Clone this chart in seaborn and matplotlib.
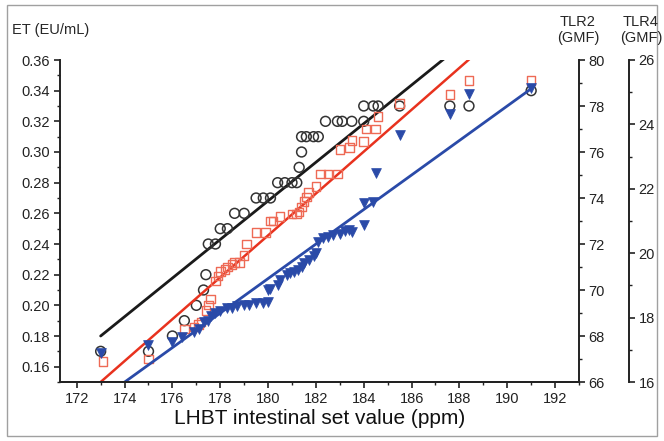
import numpy as np
import matplotlib
matplotlib.use("Agg")
import matplotlib.pyplot as plt
import seaborn as sns
from matplotlib.ticker import MultipleLocator
from matplotlib.patches import Rectangle

# ET (EU/mL) - black open circles
et_x = [173.0, 175.0, 176.0, 176.5, 177.0, 177.3, 177.4, 177.5, 177.8, 178.0,
        178.3, 178.6, 179.0, 179.5, 179.8, 180.1, 180.4, 180.7, 181.0, 181.2,
        181.3, 181.4, 181.4, 181.6, 181.9, 182.1, 182.4, 182.9, 183.1, 183.5,
        184.0, 184.0, 184.4, 184.6, 185.5, 187.6, 188.4, 191.0]
et_y = [0.17, 0.17, 0.18, 0.19, 0.20, 0.21, 0.22, 0.24, 0.24, 0.25,
        0.25, 0.26, 0.26, 0.27, 0.27, 0.27, 0.28, 0.28, 0.28, 0.28,
        0.29, 0.30, 0.31, 0.31, 0.31, 0.31, 0.32, 0.32, 0.32, 0.32,
        0.32, 0.33, 0.33, 0.33, 0.33, 0.33, 0.33, 0.34]

# TLR2 (GMF) - red open squares
tlr2_x = [173.1, 175.0, 176.5, 176.9, 177.1, 177.2, 177.4, 177.5, 177.6, 177.8,
          177.9, 178.0, 178.2, 178.3, 178.5, 178.6, 178.8, 179.0, 179.1, 179.5,
          179.9, 180.1, 180.2, 180.5, 181.0, 181.2, 181.3, 181.4, 181.5, 181.6,
          181.7, 182.0, 182.2, 182.5, 182.9, 183.0, 183.4, 183.5, 184.0, 184.1,
          184.5, 184.6, 185.5, 187.6, 188.4, 191.0]
tlr2_y = [66.9, 67.0, 68.3, 68.4, 68.5, 68.6, 69.1, 69.35, 69.6, 70.4,
          70.6, 70.8, 70.9, 71.0, 71.1, 71.2, 71.2, 71.5, 72.0, 72.5,
          72.5, 73.0, 73.0, 73.2, 73.3, 73.3, 73.4, 73.6, 73.85, 74.05,
          74.25, 74.5, 75.05, 75.05, 75.05, 76.1, 76.2, 76.5, 76.45, 77.0,
          77.0, 77.55, 78.1, 78.5, 79.1, 79.1]

# TLR4 (GMF) - blue filled down triangles
tlr4_x = [173.0, 175.0, 176.0, 176.4, 176.9, 177.1, 177.3, 177.5, 177.6, 177.8,
          178.0, 178.3, 178.5, 178.7, 179.0, 179.2, 179.5, 179.8, 180.0, 180.0,
          180.1, 180.4, 180.5, 180.8, 180.9, 181.1, 181.25, 181.4, 181.5, 181.7,
          181.9, 182.0, 182.1, 182.3, 182.5, 182.7, 183.0, 183.2, 183.4, 183.5,
          184.0, 184.0, 184.4, 184.5, 185.5, 187.6, 188.4, 191.0]
tlr4_y = [16.9, 17.15, 17.25, 17.4, 17.55, 17.65, 17.85, 17.9, 18.05, 18.15,
          18.2, 18.3, 18.3, 18.35, 18.4, 18.4, 18.45, 18.45, 18.5, 18.86,
          18.9, 19.0, 19.17, 19.32, 19.38, 19.43, 19.48, 19.58, 19.7, 19.8,
          19.9, 20.0, 20.36, 20.46, 20.5, 20.56, 20.6, 20.7, 20.72, 20.67,
          20.88, 21.55, 21.6, 22.48, 23.67, 24.32, 24.94, 25.12]

# linear fits: value at x=173 and slope per ppm
fit_range = [173.0, 191.0]
et_fit = (0.18, 0.01259)
tlr2_fit = (66.0, 0.9105)
tlr4_fit = (15.46, 0.536)

sns.set_style("ticks")
plt.rcParams["font.family"] = ["Liberation Sans", "DejaVu Sans"]
plt.rcParams["xtick.direction"] = "out"
plt.rcParams["ytick.direction"] = "out"

fig = plt.figure(figsize=(6.64, 4.41), dpi=100)
ax = fig.add_axes([60 / 664, 59 / 441, 519 / 664, 322 / 441])
ax2 = ax.twinx()
ax3 = ax.twinx()

black = "#1a1a1a"
red_line = "#e8321e"
red_mk = "#ee6a55"
blue = "#2a4aa8"

fx = np.array(fit_range)
sns.lineplot(x=fx, y=et_fit[0] + et_fit[1] * (fx - 173), ax=ax, color=black, linewidth=2.0)
sns.lineplot(x=fx, y=tlr2_fit[0] + tlr2_fit[1] * (fx - 173), ax=ax2, color=red_line, linewidth=1.8)
sns.lineplot(x=fx, y=tlr4_fit[0] + tlr4_fit[1] * (fx - 173), ax=ax3, color=blue, linewidth=2.0)

sns.scatterplot(x=et_x, y=et_y, ax=ax, marker="o", s=50, facecolors="none",
                edgecolors="#333333", linewidth=1.1, zorder=3)
sns.scatterplot(x=tlr2_x, y=tlr2_y, ax=ax2, marker="s", s=38, facecolors="none",
                edgecolors=red_mk, linewidth=1.0, zorder=3)
sns.scatterplot(x=tlr4_x, y=tlr4_y, ax=ax3, marker="v", s=50, color=blue,
                edgecolor=blue, linewidth=0.5, zorder=3)

ax.set_xlim(171.3, 193.0)
ax.set_ylim(0.15, 0.36)
ax2.set_ylim(66, 80)
ax3.set_ylim(16, 26)

ax.xaxis.set_major_locator(MultipleLocator(2))
ax.xaxis.set_minor_locator(MultipleLocator(1))
ax.yaxis.set_major_locator(MultipleLocator(0.02))
ax.yaxis.set_minor_locator(MultipleLocator(0.01))
ax.yaxis.set_major_formatter(matplotlib.ticker.FormatStrFormatter("%.2f"))
ax2.yaxis.set_major_locator(MultipleLocator(2))
ax2.yaxis.set_minor_locator(MultipleLocator(1))
ax3.yaxis.set_major_locator(MultipleLocator(2))
ax3.yaxis.set_minor_locator(MultipleLocator(1))

for a in (ax, ax2, ax3):
    a.set_xlabel("")
    a.set_ylabel("")
    a.spines["top"].set_visible(False)
    for s in a.spines.values():
        s.set_linewidth(1.4)
        s.set_color("#222222")
    a.tick_params(which="major", length=4.5, width=1.2, labelsize=10.5, colors="#222222", pad=2.5)
    a.tick_params(which="minor", length=2.5, width=1.0, colors="#222222")
ax.spines["right"].set_visible(False)
ax2.spines["left"].set_visible(False)
ax3.spines["left"].set_visible(False)
ax3.spines["right"].set_position(("outward", 36))

ax.set_xlabel("LHBT intestinal set value (ppm)", fontsize=15, labelpad=2, color="#111111")

fig.text(12 / 664, 1 - 30 / 441, "ET (EU/mL)", fontsize=10.5, va="center", ha="left")
fig.text(578 / 664, 1 - 30 / 441, "TLR2\n(GMF)", fontsize=10.5, va="center", ha="center",
         linespacing=1.2)
fig.text(641 / 664, 1 - 30 / 441, "TLR4\n(GMF)", fontsize=10.5, va="center", ha="center",
         linespacing=1.2)

fig.patches.append(Rectangle((7 / 664, 5 / 441), 650 / 664, 431 / 441, transform=fig.transFigure,
                             fill=False, edgecolor="#a0a0a0", linewidth=1.0))

fig.savefig("out.png", dpi=100)
